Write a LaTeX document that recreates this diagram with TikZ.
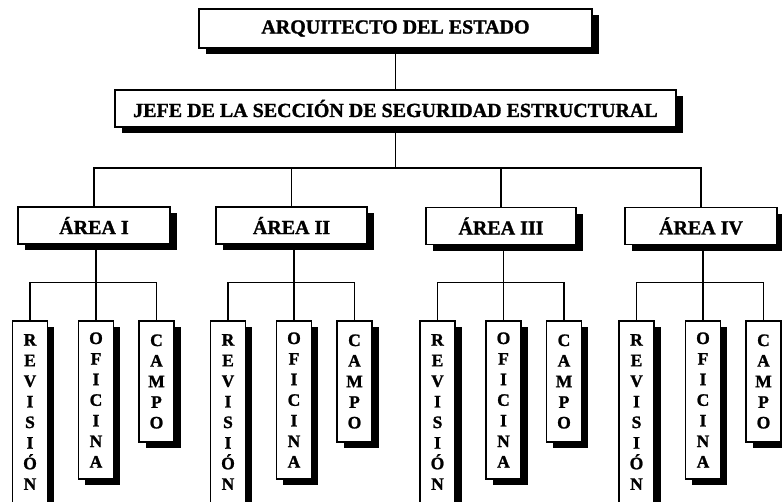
\documentclass[tikz,border=0pt]{standalone}
\usepackage{fontspec}
\setmainfont{Liberation Serif}[BoldFeatures={FakeBold=1.3}]
\usetikzlibrary{shadows}
\begin{document}
\begin{tikzpicture}[x=1pt,y=-1pt,
  box/.style={draw=black, line width=1.2pt, fill=white, rectangle, inner sep=0pt,
    font=\bfseries\fontsize{20}{22}\selectfont,
    drop shadow={shadow xshift=6.5pt, shadow yshift=-6pt, fill=black, opacity=1}},
  vbox/.style={box, minimum width=35pt, align=center,
    font=\bfseries\fontsize{17.5}{20.6}\selectfont},
  conn/.style={draw=black, line width=1.2pt}]
\useasboundingbox (0,0) rectangle (782,501);
\clip (0,0) rectangle (782,501);
\fill[white] (0,0) rectangle (782,501);

\node[box, minimum width=393pt, minimum height=39pt] (top) at (395.5,28.5) {ARQUITECTO DEL ESTADO};
\node[box, minimum width=561pt, minimum height=37pt] (jefe) at (395.5,108.5) {JEFE DE LA SECCIÓN DE SEGURIDAD ESTRUCTURAL};

\node[box, minimum width=152pt, minimum height=37pt] (a1) at (94,225.5) {ÁREA I};
\node[box, minimum width=151pt, minimum height=37pt] (a2) at (291.5,225.5) {ÁREA II};
\node[box, minimum width=150pt, minimum height=37pt] (a3) at (501,226) {ÁREA III};
\node[box, minimum width=152pt, minimum height=37pt] (a4) at (701,226) {ÁREA IV};

\coordinate (bus) at (395.5,168);
\draw[conn] (top.south) -- (jefe.north);
\draw[conn] (jefe.south) -- (bus);
\draw[conn] (a1.north) |- (bus) -| (a4.north);
\draw[conn] (a2.north) -- (a2.north |- bus);
\draw[conn] (a3.north) -- (a3.north |- bus);

\foreach \i/\r/\o/\c in {1/30/96/156.5, 2/228/294/354.5, 3/437.5/503.5/564, 4/636.5/703/763.5}{
  \node[vbox, minimum height=182pt] (r\i) at (\r,412) {R\\E\\V\\I\\S\\I\\Ó\\N};
  \node[vbox, minimum height=158pt] (o\i) at (\o,400) {O\\F\\I\\C\\I\\N\\A};
  \node[vbox, minimum height=121pt] (c\i) at (\c,381.5) {C\\A\\M\\P\\O};
  \coordinate (b\i) at (\o,282.5);
  \draw[conn] (a\i.south -| b\i) -- (o\i.north);
  \draw[conn] (r\i.north) |- (b\i) -| (c\i.north);
}
\end{tikzpicture}
\end{document}
